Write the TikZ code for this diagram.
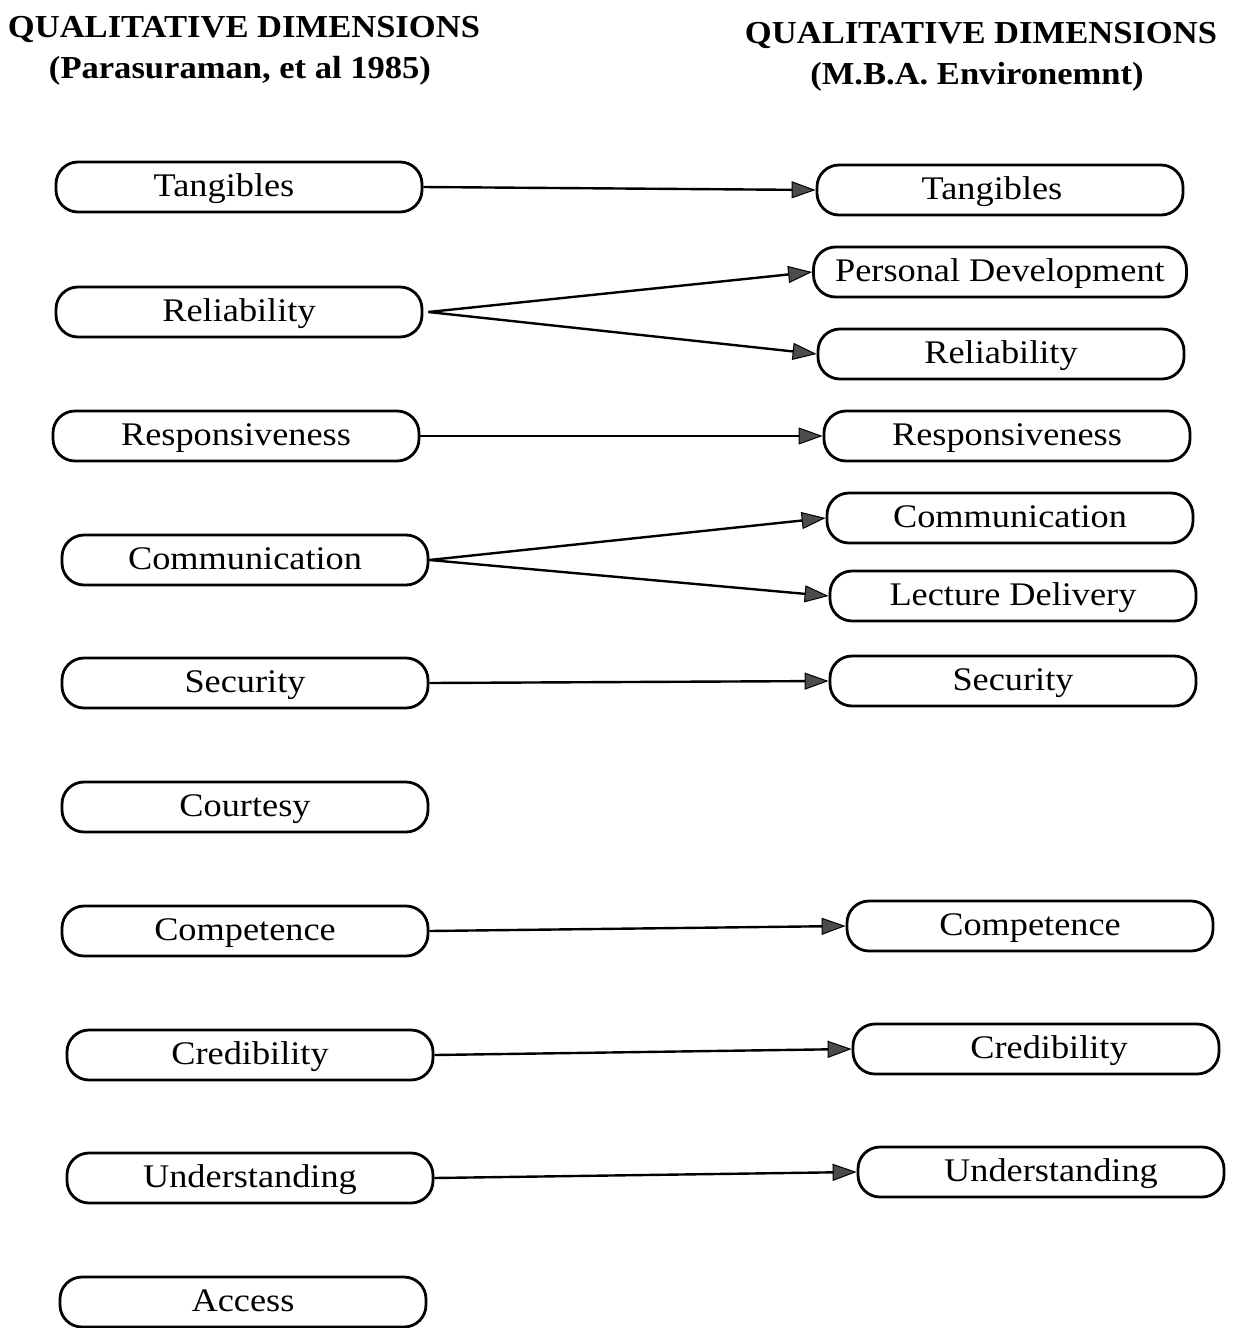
\documentclass[tikz,border=0pt]{standalone}
\usepackage{fontspec}
\setmainfont{Liberation Serif}
\usetikzlibrary{arrows.meta}
\begin{document}
\begin{tikzpicture}[x=1pt,y=-1pt,
  dim/.style={draw, line width=2.8pt, rounded corners=22pt, minimum width=366pt,
    minimum height=50pt, inner sep=0pt, text height=24pt, text depth=6pt,
    font=\fontsize{33}{38}\selectfont\addfontfeature{FakeStretch=1.1}},
  link/.style={line width=2.4pt,
    -{Triangle[length=24pt,width=17pt,line width=1pt,fill=black!70]}},
  head/.style={font=\fontsize{32}{38}\selectfont\bfseries\addfontfeature{FakeStretch=1.08}}]
\useasboundingbox (0,0) rectangle (1237,1328);

% column headings
\node[head] (hl1) at (244,29) {QUALITATIVE DIMENSIONS};
\node[head] (hl2) at (240,71) {(Parasuraman, et al 1985)};
\node[head] (hr1) at (981,35) {QUALITATIVE DIMENSIONS};
\node[head] (hr2) at (977,77) {(M.B.A. Environemnt)};

% Parasuraman dimensions
\node[dim] (lTan) at (239,187)  {\hspace*{-30pt}Tangibles};
\node[dim] (lRel) at (239,312)  {Reliability};
\node[dim] (lRes) at (236,436)  {Responsiveness};
\node[dim] (lCom) at (245,560)  {Communication};
\node[dim] (lSec) at (245,683)  {Security};
\node[dim] (lCou) at (245,807)  {Courtesy};
\node[dim] (lCmp) at (245,931)  {Competence};
\node[dim] (lCre) at (250,1055) {Credibility};
\node[dim] (lUnd) at (250,1178) {Understanding};
\node[dim] (lAcc) at (243,1302) {Access};

% M.B.A. environment dimensions
\node[dim] (rTan) at (1000,190)  {\hspace*{-16pt}Tangibles};
\node[dim, minimum width=373pt] (rPer) at (1000,272) {Personal Development};
\node[dim] (rRel) at (1001,354)  {Reliability};
\node[dim] (rRes) at (1007,436)  {Responsiveness};
\node[dim] (rCom) at (1010,518)  {Communication};
\node[dim] (rLec) at (1013,596)  {Lecture Delivery};
\node[dim] (rSec) at (1013,681)  {Security};
\node[dim] (rCmp) at (1030,926)  {Competence};
\node[dim] (rCre) at (1036,1049) {\hspace*{26pt}Credibility};
\node[dim] (rUnd) at (1041,1172) {\hspace*{20pt}Understanding};

% mappings
\draw[link] (lTan.east) -- (rTan.west);
\draw[link] ([xshift=5pt]lRel.east) -- (rPer.west);
\draw[link] ([xshift=5pt]lRel.east) -- (rRel.west);
\draw[link] (lRes.east) -- (rRes.west);
\draw[link] (lCom.east) -- (rCom.west);
\draw[link] (lCom.east) -- (rLec.west);
\draw[link] (lSec.east) -- (rSec.west);
\draw[link] (lCmp.east) -- (rCmp.west);
\draw[link] (lCre.east) -- (rCre.west);
\draw[link] (lUnd.east) -- (rUnd.west);
\end{tikzpicture}
\end{document}
